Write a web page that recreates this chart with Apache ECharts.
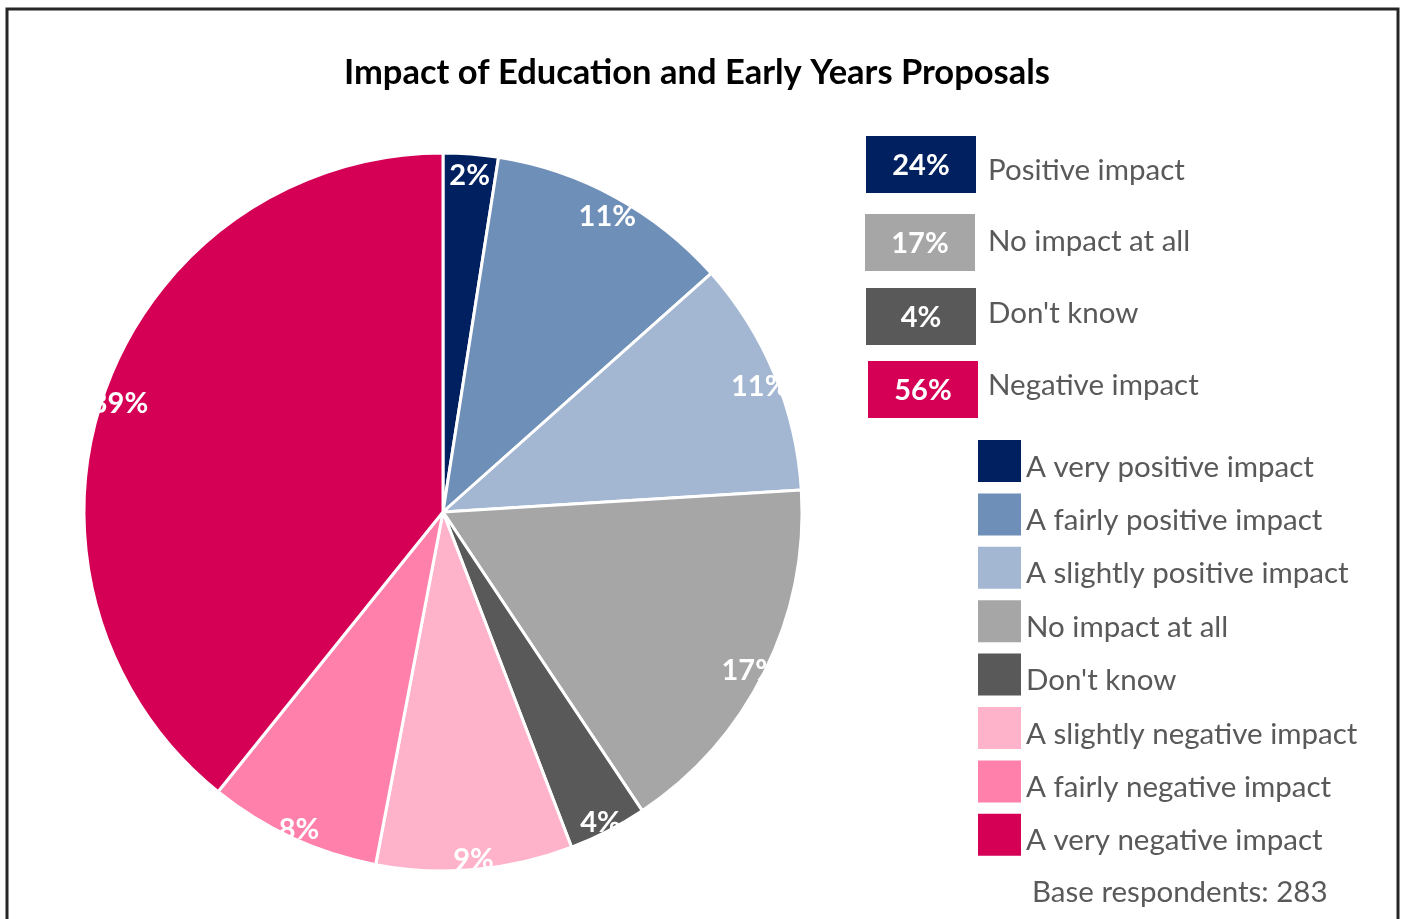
<!DOCTYPE html>
<html>
<head>
<meta charset="utf-8">
<title>Impact of Education and Early Years Proposals</title>
<script src="https://cdn.jsdelivr.net/npm/echarts@6/dist/echarts.min.js"></script>
<style>
  html, body { margin: 0; padding: 0; background: #ffffff; }
  #chart { width: 1404px; height: 919px; }
</style>
</head>
<body>
<div id="chart"></div>
<script>
// Response categories (clockwise from 12 o'clock)
const categories = [
  'A very positive impact',
  'A fairly positive impact',
  'A slightly positive impact',
  'No impact at all',
  "Don't know",
  'A slightly negative impact',
  'A fairly negative impact',
  'A very negative impact'
];
// Number of respondents per category
const counts = [7, 31, 30, 47, 10, 25, 22, 111];
const sliceColors = ['#002060', '#6E8FB8', '#A3B6D2', '#A6A6A6', '#595959', '#FFB3CB', '#FF80AA', '#D50055'];

// Summary groups: label, indexes of categories included, box colour
const groupNames = ['Positive impact', 'No impact at all', "Don't know", 'Negative impact'];
const groupMembers = [[0, 1, 2], [3], [4], [5, 6, 7]];
const groupColors = ['#002060', '#A6A6A6', '#595959', '#D50055'];

const baseText = 'Base respondents: 283';

const FONT = 'Lato, "Open Sans", sans-serif';
const total = counts.reduce((a, b) => a + b, 0);
const pct = v => Math.round(v / total * 100) + '%';

const pieData = categories.map((name, i) => ({
  name, value: counts[i], itemStyle: { color: sliceColors[i] }
}));

// Summary boxes on the right
const boxTops = [136, 214, 288, 361];
const boxLefts = [866, 865, 866, 868];
const groupTextY = [170, 241, 313, 385];
const graphic = [
  {
    type: 'rect', silent: true,
    shape: { x: 7, y: 9, width: 1391, height: 960 },
    style: { fill: 'none', stroke: '#262626', lineWidth: 3 }
  }
];
groupNames.forEach((g, i) => {
  const sum = groupMembers[i].reduce((a, k) => a + counts[k], 0);
  graphic.push({
    type: 'rect', silent: true,
    shape: { x: boxLefts[i], y: boxTops[i], width: 110, height: 57 },
    style: { fill: groupColors[i] }
  });
  graphic.push({
    type: 'text', silent: true,
    x: boxLefts[i] + 55, y: boxTops[i] + 30,
    style: {
      text: pct(sum), fill: '#ffffff', font: 'bold 29px ' + FONT,
      align: 'center', verticalAlign: 'middle'
    }
  });
  graphic.push({
    type: 'text', silent: true,
    x: 988, y: groupTextY[i],
    style: {
      text: g, fill: '#595959', font: '29.5px ' + FONT,
      align: 'left', verticalAlign: 'middle'
    }
  });
});
graphic.push({
  type: 'text', silent: true,
  x: 1032, y: 892,
  style: {
    text: baseText, fill: '#595959', font: '29.5px ' + FONT,
    align: 'left', verticalAlign: 'middle'
  }
});

const chart = echarts.init(document.getElementById('chart'), null, { renderer: 'canvas' });
chart.setOption({
  animation: false,
  title: {
    text: 'Impact of Education and Early Years Proposals',
    left: 692, top: 50, textAlign: 'center',
    textStyle: { fontFamily: FONT, fontSize: 34.5, fontWeight: 'bold', color: '#000000' }
  },
  legend: {
    orient: 'vertical',
    left: 978, top: 440,
    padding: 0,
    itemWidth: 43, itemHeight: 42, itemGap: 11.4,
    icon: 'rect',
    selectedMode: false,
    itemStyle: { borderWidth: 0 },
    data: categories,
    formatter: name => '{t|' + name + '}',
    textStyle: {
      fontFamily: FONT, fontSize: 29.5, color: '#595959',
      rich: {
        t: {
          fontFamily: FONT, fontSize: 29.5, color: '#595959',
          padding: [12, 0, 0, 0]
        }
      }
    }
  },
  graphic,
  series: [
    {
      type: 'pie',
      center: [443, 512],
      radius: [0, 359],
      startAngle: 90,
      clockwise: true,
      silent: true,
      label: { show: false },
      labelLine: { show: false },
      itemStyle: { borderColor: '#ffffff', borderWidth: 3 },
      emphasis: { disabled: true },
      data: pieData
    },
    {
      // transparent ring that carries the percentage labels near the rim
      type: 'pie',
      center: [443, 512],
      radius: [321, 359],
      startAngle: 90,
      clockwise: true,
      silent: true,
      legendHoverLink: false,
      itemStyle: { color: 'rgba(0,0,0,0)', borderWidth: 0 },
      emphasis: { disabled: true },
      labelLine: { show: false },
      label: {
        show: true, position: 'inside', offset: [0, 6],
        formatter: p => pct(p.value),
        color: '#ffffff', fontFamily: FONT, fontSize: 29, fontWeight: 'bold'
      },
      data: categories.map((name, i) => ({ name: name + ' ', value: counts[i] }))
    }
  ]
});
</script>
</body>
</html>
